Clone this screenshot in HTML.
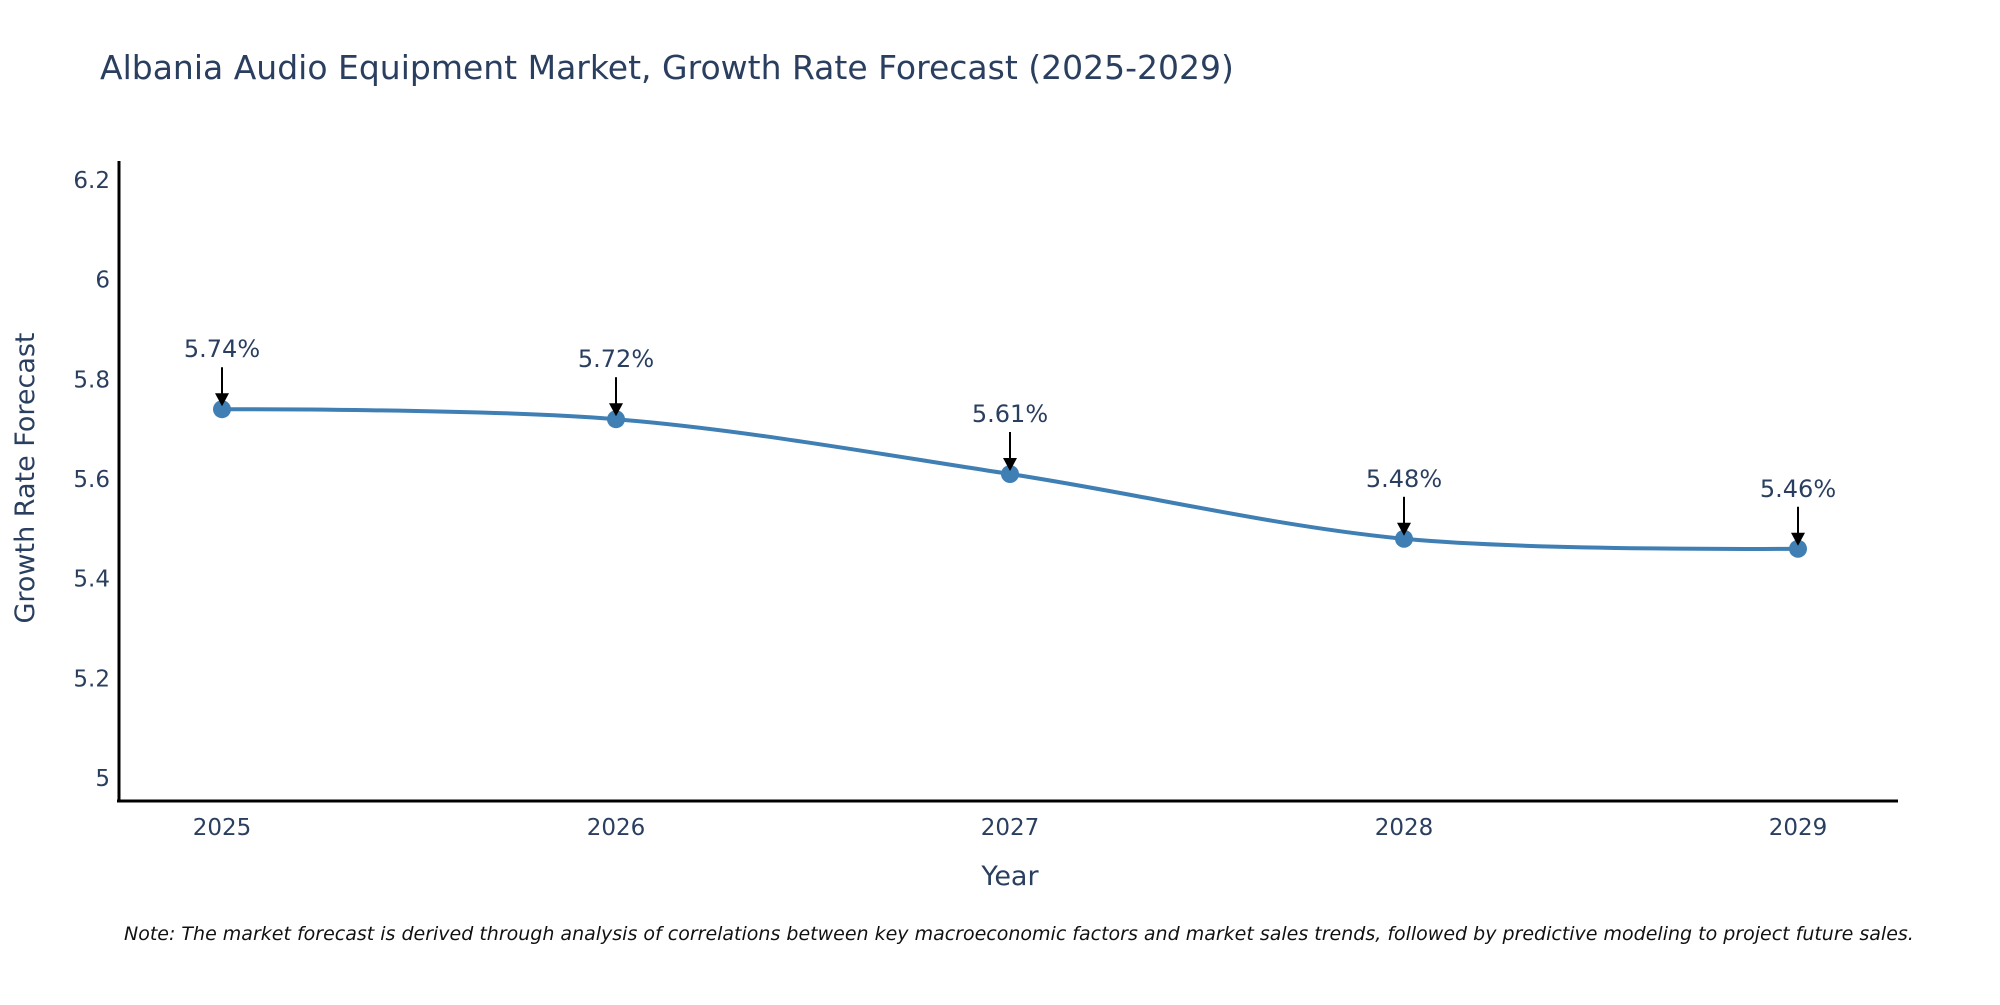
<!DOCTYPE html>
<html><head><meta charset="utf-8"><style>
body{margin:0;background:#fff}
svg text{font-family:"DejaVu Sans","Liberation Sans",sans-serif;fill:#2a3f5f}
</style></head><body>
<svg id="chart" width="2000" height="1000" xmlns="http://www.w3.org/2000/svg">
<rect width="2000" height="1000" fill="#fff"/>
<text x="100" y="79" font-size="33">Albania Audio Equipment Market, Growth Rate Forecast (2025-2029)</text>
<g id="yticks"></g>
<g id="xticks"></g>
<path id="line" fill="none" stroke="#3f7fb3" stroke-width="4"/>
<g id="marks"></g>
<g id="annos"></g>
<line x1="119" y1="161" x2="119" y2="802" stroke="#000" stroke-width="3"/>
<line x1="117" y1="801" x2="1898" y2="801" stroke="#000" stroke-width="3"/>
<text transform="translate(34,478) rotate(-90)" text-anchor="middle" font-size="27">Growth Rate Forecast</text>
<text x="1010" y="885" text-anchor="middle" font-size="27">Year</text>
<text x="124" y="940" font-size="19" font-style="italic" style="fill:#111">Note: The market forecast is derived through analysis of correlations between key macroeconomic factors and market sales trends, followed by predictive modeling to project future sales.</text>
</svg>
<script>
const years=[2025,2026,2027,2028,2029];
const values=[5.74,5.72,5.61,5.48,5.46];
const labels=["5.74%","5.72%","5.61%","5.48%","5.46%"];
const yTicks=[5,5.2,5.4,5.6,5.8,6,6.2];
const NS="http://www.w3.org/2000/svg";
function xs(v){return 222+(v-2025)*394;}
function ys(v){return 778-(v-5)*(598/1.2);}
function mk(t,a,p){const e=document.createElementNS(NS,t);for(const k in a)e.setAttribute(k,a[k]);p.appendChild(e);return e;}
const yt=document.getElementById('yticks');
yTicks.forEach(t=>{const e=mk('text',{x:110,y:ys(t)+8,'text-anchor':'end','font-size':23},yt);


e.textContent=String(t);});
const xt=document.getElementById('xticks');
years.forEach(t=>{const e=mk('text',{x:xs(t),y:835,'text-anchor':'middle','font-size':23},xt);


e.textContent=String(t);});
const P=years.map((y,i)=>[xs(y),ys(values[i])]);
let d='M'+P[0][0]+','+P[0][1];const s=0.33;
for(let i=0;i<P.length-1;i++){const p0=P[Math.max(0,i-1)],p1=P[i],p2=P[i+1],p3=P[Math.min(P.length-1,i+2)];
const c1=[p1[0]+(p2[0]-p0[0])*s/2*(i==0?0:1),p1[1]+(p2[1]-p0[1])*s/2*(i==0?0:1)];
const c2=[p2[0]-(p3[0]-p1[0])*s/2*(i==P.length-2?0:1),p2[1]-(p3[1]-p1[1])*s/2*(i==P.length-2?0:1)];
d+=' C'+c1.join(',')+' '+c2.join(',')+' '+p2.join(',');}
document.getElementById('line').setAttribute('d',d);
const mg=document.getElementById('marks'),ag=document.getElementById('annos');
P.forEach((p,i)=>{const c=mk('circle',{cx:p[0],cy:p[1],r:9,fill:'#3f7fb3'},mg);


const l=mk('line',{x1:p[0],y1:p[1]-42,x2:p[0],y2:p[1]-14,stroke:'#000','stroke-width':2},ag);


const h=mk('polygon',{points:(p[0]-7)+','+(p[1]-16)+' '+(p[0]+7)+','+(p[1]-16)+' '+p[0]+','+(p[1]-3),fill:'#000'},ag);


const t=mk('text',{x:p[0],y:p[1]-52,'text-anchor':'middle','font-size':24},ag);


t.textContent=labels[i];});
</script>
</body></html>
